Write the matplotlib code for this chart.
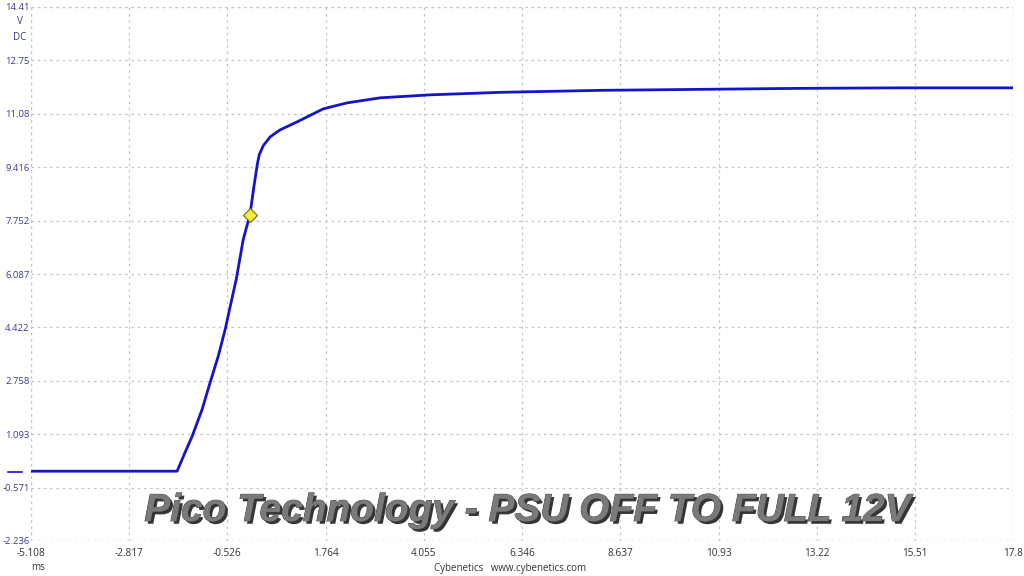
import numpy as np
import matplotlib.pyplot as plt
import matplotlib.patheffects as pe

# time (ms) and voltage (V)
t_ms = [-5.108, -1.70, -1.512, -1.348, -1.115, -0.928, -0.741, -0.578, -0.461, -0.321,
        -0.157, 0.0, 0.099, 0.170, 0.216, 0.310, 0.473, 0.707, 1.104, 1.711, 2.271,
        3.042, 4.210, 5.844, 8.179, 10.514, 12.85, 15.19, 17.8]
volts = [-0.06, -0.06, 0.533, 1.031, 1.871, 2.711, 3.520, 4.360, 5.076, 5.916,
         7.160, 7.94, 8.872, 9.494, 9.805, 10.085, 10.365, 10.583, 10.832, 11.236, 11.423,
         11.579, 11.672, 11.750, 11.812, 11.843, 11.874, 11.89, 11.89]

trig_t = 0.0
trig_v = 7.94

x_ticks = [-5.108, -2.817, -0.526, 1.764, 4.055, 6.346, 8.637, 10.93, 13.22, 15.51, 17.8]
y_ticks = [-2.236, -0.571, 1.093, 2.758, 4.422, 6.087, 7.752, 9.416, 11.08, 12.75, 14.41]

plt.rcParams['font.family'] = ['Open Sans', 'DejaVu Sans']

fig = plt.figure(figsize=(10.24, 5.76), dpi=100)
ax = fig.add_axes([31/1024, 35/576, 982/1024, 534/576])

ax.plot(t_ms, volts, color='#1414c8', lw=2.0, solid_joinstyle='round', zorder=3)
ax.plot([trig_t], [trig_v], marker='D', ms=7, mfc='#f2ee3a', mec='#6b6b20', mew=0.8, zorder=4)

ax.set_xlim(x_ticks[0], x_ticks[-1])
ax.set_ylim(y_ticks[0], y_ticks[-1])
ax.set_xticks(x_ticks)
ax.set_xticklabels([f'{v:g}' for v in x_ticks], fontsize=7.2, color='#333333')
ax.set_yticks(y_ticks)
ax.set_yticklabels([f'{v:g}' for v in y_ticks], fontsize=6.8, color='#3a3a9a')
ax.tick_params(length=0, pad=1)
ax.tick_params(axis='x', pad=5)

ax.grid(True, color='#b8c8d0', ls=(0, (2, 3)), lw=0.9)
for s in ax.spines.values():
    s.set_visible(False)
# frame drawn as dotted lines like the grid
for xv in (x_ticks[0], x_ticks[-1]):
    ax.axvline(xv, color='#b8c8d0', ls=(0, (2, 3)), lw=0.9, zorder=1)
for yv in (y_ticks[0], y_ticks[-1]):
    ax.axhline(yv, color='#b8c8d0', ls=(0, (2, 3)), lw=0.9, zorder=1)

# zero level marker on the left
fig.add_artist(plt.Line2D([8/1024, 22/1024], [1 - 472/576, 1 - 472/576], color='#1414c8', lw=1.2))

fig.text(20/1024, 1 - 22/576, 'V', ha='center', va='center', fontsize=7, color='#3a3a9a')
fig.text(20/1024, 1 - 37/576, 'DC', ha='center', va='center', fontsize=7, color='#3a3a9a')
fig.text(38/1024, 1 - 568/576, 'ms', ha='center', va='center', fontsize=7, color='#333333')
fig.text(510/1024, 1 - 568/576, 'Cybenetics   www.cybenetics.com', ha='center', va='center',
         fontsize=7, color='#333333')

fig.text(527/1024, 1 - 511/576, 'Pico Technology - PSU OFF TO FULL 12V', ha='center', va='center',
         fontsize=28, fontweight='bold', fontstyle='italic', family=['Liberation Sans', 'DejaVu Sans'],
         color='#7a7a7a',
         path_effects=[pe.withSimplePatchShadow(offset=(2, -2), shadow_rgbFace='#111111', alpha=0.85),
                       pe.withStroke(linewidth=0.6, foreground='#444444')])

fig.savefig('out.png', dpi=100)
